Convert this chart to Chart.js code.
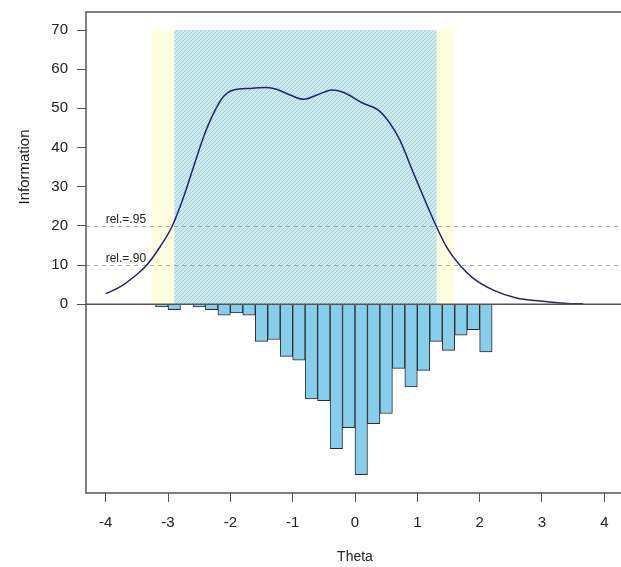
<!DOCTYPE html>
<html>
<head>
<meta charset="utf-8">
<script src="https://cdn.jsdelivr.net/npm/chart.js@4.4.1/dist/chart.umd.min.js"></script>
<style>
  html, body { margin: 0; padding: 0; overflow: hidden; background: #fff; }
  #wrap { width: 621px; height: 567px; overflow: hidden; }
</style>
</head>
<body>
<div id="wrap"><canvas id="chart" width="626" height="567"></canvas></div>
<script>
// test information curve
const thetaPoints = [-4.0, -3.77, -3.45, -3.34, -3.13, -2.94, -2.75, -2.59, -2.43, -2.27, -2.11, -1.95,
  -1.68, -1.42, -1.26, -1.04, -0.83, -0.61, -0.37, -0.19, 0.13, 0.37, 0.56, 0.72, 0.94, 1.12,
  1.31, 1.47, 1.68, 1.90, 2.22, 2.59, 2.97, 3.40, 3.66];
const infoValues = [2.7, 4.4, 8.3, 10.0, 14.6, 19.7, 27.4, 35.1, 42.7, 48.7, 53.0, 54.7,
  55.1, 55.3, 54.9, 53.4, 52.3, 53.4, 54.7, 54.1, 51.3, 49.6, 46.2, 41.9, 33.4, 26.6,
  19.7, 14.6, 10.0, 6.6, 3.6, 1.6, 0.8, 0.2, 0.1];

// person distribution (drawn downward)
const histCenters = [-3.1, -2.9, -2.7, -2.5, -2.3, -2.1, -1.9, -1.7, -1.5, -1.3, -1.1, -0.9, -0.7,
  -0.5, -0.3, -0.1, 0.1, 0.3, 0.5, 0.7, 0.9, 1.1, 1.3, 1.5, 1.7, 1.9, 2.1];
const histHeights = [-0.7, -1.4, 0, -0.7, -1.4, -2.8, -2.2, -2.8, -9.5, -9.0, -13.3, -14.3, -24.2,
  -24.6, -36.9, -31.5, -43.5, -30.5, -27.9, -16.4, -21.1, -16.9, -9.5, -11.8, -7.9, -6.5, -12.2];

const xTicks = [-4, -3, -2, -1, 0, 1, 2, 3, 4];
const yTicks = [0, 10, 20, 30, 40, 50, 60, 70];

const relLevels = [20, 10];
const relLabels = ["rel.=.95", "rel.=.90"];
const band95 = [-2.90, 1.31];
const band90 = [-3.26, 1.60];
const bandTop = 70;

const FONT = "'Liberation Sans', Arial, sans-serif";

function makeHatch(ctx) {
  const c = document.createElement("canvas");
  c.width = 4; c.height = 4;
  const g = c.getContext("2d");
  g.fillStyle = "#cdebee";
  g.fillRect(0, 0, 4, 4);
  g.strokeStyle = "#9fcfd5";
  g.lineWidth = 1;
  g.beginPath();
  g.moveTo(0, 4); g.lineTo(4, 0);
  g.moveTo(-1, 1); g.lineTo(1, -1);
  g.moveTo(3, 5); g.lineTo(5, 3);
  g.stroke();
  return ctx.createPattern(c, "repeat");
}

const canvas = document.getElementById("chart");
const hatch = makeHatch(canvas.getContext("2d"));

const backdrop = {
  id: "backdrop",
  beforeDatasetsDraw(chart) {
    const { ctx, chartArea: a, scales: { x, y } } = chart;
    const top = y.getPixelForValue(bandTop);
    const base = y.getPixelForValue(0);
    ctx.save();
    const o0 = x.getPixelForValue(band90[0]), o1 = x.getPixelForValue(band90[1]);
    ctx.fillStyle = "#ffffe0";
    ctx.fillRect(o0, top, o1 - o0, base - top);
    const i0 = x.getPixelForValue(band95[0]), i1 = x.getPixelForValue(band95[1]);
    ctx.fillStyle = hatch;
    ctx.fillRect(i0, top, i1 - i0, base - top);

    ctx.strokeStyle = "#a8a8a8";
    ctx.lineWidth = 1;
    ctx.setLineDash([4, 4]);
    ctx.font = "12px " + FONT;
    ctx.fillStyle = "#222";
    ctx.textAlign = "left";
    ctx.textBaseline = "alphabetic";
    relLevels.forEach((v, i) => {
      const py = Math.round(y.getPixelForValue(v)) + 0.5;
      ctx.beginPath();
      ctx.moveTo(a.left, py);
      ctx.lineTo(a.right, py);
      ctx.stroke();
      ctx.fillText(relLabels[i], x.getPixelForValue(-4), py - 4);
    });
    ctx.restore();
  },
  afterDatasetsDraw(chart) {
    const { ctx, chartArea: a, scales: { y } } = chart;
    ctx.save();
    ctx.strokeStyle = "#555";
    ctx.lineWidth = 1.5;
    const zy = y.getPixelForValue(0);
    ctx.beginPath();
    ctx.moveTo(a.left, zy);
    ctx.lineTo(a.right, zy);
    ctx.stroke();
    ctx.strokeRect(a.left, a.top, a.right - a.left, a.bottom - a.top);
    ctx.restore();
  },
  afterDraw(chart) {
    const { ctx } = chart;
    ctx.save();
    ctx.translate(25, 167);
    ctx.rotate(-Math.PI / 2);
    ctx.font = "15px " + FONT;
    ctx.fillStyle = "#222";
    ctx.textAlign = "center";
    ctx.textBaseline = "middle";
    ctx.fillText("Information", 0, 0);
    ctx.restore();
  }
};

new Chart(canvas, {
  type: "scatter",
  data: {
    datasets: [
      {
        type: "line",
        label: "Information",
        data: thetaPoints.map((t, i) => ({ x: t, y: infoValues[i] })),
        borderColor: "#23236b",
        borderWidth: 1.5,
        pointRadius: 0,
        fill: false,
        cubicInterpolationMode: "monotone",
        order: 1
      },
      {
        type: "bar",
        label: "Persons",
        data: histCenters.map((t, i) => ({ x: t, y: histHeights[i] })),
        backgroundColor: "#87ceeb",
        borderColor: "#2b2b2b",
        borderWidth: 1,
        barPercentage: 1,
        categoryPercentage: 1,
        order: 2
      }
    ]
  },
  options: {
    responsive: false,
    animation: false,
    devicePixelRatio: 1,
    layout: { padding: { top: 12, right: 2, left: 0, bottom: 0 } },
    plugins: {
      legend: { display: false },
      tooltip: { enabled: false }
    },
    scales: {
      x: {
        type: "linear",
        min: -4.316,
        max: 4.316,
        offset: false,
        afterBuildTicks: (s) => { s.ticks = xTicks.map((v) => ({ value: v })); },
        afterFit: (s) => { s.height = 74; s.paddingLeft = 0; s.paddingRight = 0; },
        grid: { drawOnChartArea: false, drawTicks: true, tickLength: 9, color: "#555", offset: false },
        border: { display: false },
        ticks: {
          color: "#222",
          font: { family: FONT, size: 15 },
          padding: 12,
          maxRotation: 0,
          autoSkip: false,
          callback: (v) => String(v)
        },
        title: {
          display: true,
          text: "Theta",
          color: "#222",
          font: { family: FONT, size: 14 },
          padding: { top: 0, bottom: 1 }
        }
      },
      y: {
        type: "linear",
        min: -48.2,
        max: 74.6,
        afterBuildTicks: (s) => { s.ticks = yTicks.map((v) => ({ value: v })); },
        afterFit: (s) => { s.width = 86; s.paddingTop = 0; s.paddingBottom = 0; },
        grid: { drawOnChartArea: false, drawTicks: true, tickLength: 9, color: "#555" },
        border: { display: false },
        ticks: {
          color: "#222",
          font: { family: FONT, size: 15 },
          padding: 9,
          autoSkip: false,
          callback: (v) => String(v)
        }
      }
    }
  },
  plugins: [backdrop]
});
</script>
</body>
</html>
